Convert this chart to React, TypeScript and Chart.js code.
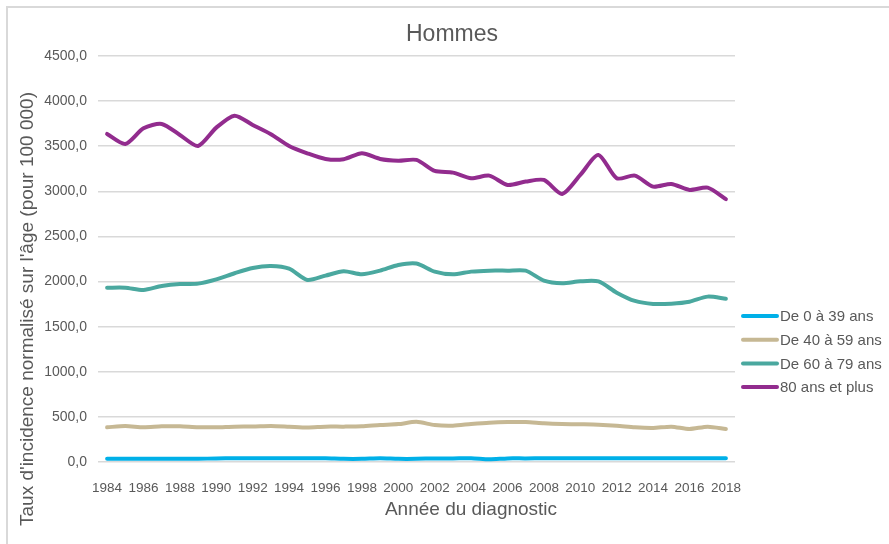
import React, { useEffect, useRef } from "react";
import { Chart, registerables } from "chart.js";

Chart.register(...registerables);

const years = [
  "1984", "1985", "1986", "1987", "1988", "1989", "1990", "1991", "1992", "1993",
  "1994", "1995", "1996", "1997", "1998", "1999", "2000", "2001", "2002", "2003",
  "2004", "2005", "2006", "2007", "2008", "2009", "2010", "2011", "2012", "2013",
  "2014", "2015", "2016", "2017", "2018",
];

const age0to39 = [
  35, 35, 35, 35, 35, 35, 40, 42, 42, 42,
  42, 42, 42, 35, 35, 42, 35, 35, 40, 40,
  42, 30, 40, 40, 42, 42, 42, 42, 42, 42,
  42, 42, 42, 42, 42,
];

const age40to59 = [
  385, 398, 385, 395, 395, 385, 385, 392, 393, 400,
  392, 383, 392, 392, 395, 410, 420, 445, 410, 403,
  421, 436, 443, 443, 429, 421, 418, 414, 403, 385,
  378, 392, 366, 392, 366,
];

const age60to79 = [
  1932, 1932, 1907, 1951, 1973, 1977, 2025, 2092, 2151, 2173,
  2143, 2018, 2066, 2114, 2080, 2121, 2184, 2200, 2110, 2080,
  2110, 2121, 2121, 2121, 2010, 1981, 2003, 2001, 1877, 1785,
  1752, 1755, 1777, 1833, 1810,
];

const age80plus = [
  3636, 3525, 3699, 3747, 3625, 3503, 3706, 3839, 3736, 3633,
  3503, 3422, 3359, 3356, 3422, 3359, 3340, 3348, 3226, 3207,
  3145, 3174, 3071, 3108, 3126, 2971, 3182, 3404, 3145, 3174,
  3052, 3082, 3016, 3041, 2913,
];

const seriesNames = ["De 0 à 39 ans", "De 40 à 59 ans", "De 60 à 79 ans", "80 ans et plus"];
const seriesColors = ["#00b0e8", "#c6b894", "#4aa89f", "#922c8e"];

const chartTitle = "Hommes";
const xTitle = "Année du diagnostic";
const yTitle = "Taux d'incidence normalisé sur l'âge (pour 100 000)";

const FONT = "'Liberation Sans', Arial, sans-serif";
const TEXT = "#595959";

export default function App() {
  const ref = useRef<HTMLCanvasElement>(null);

  useEffect(() => {
    document.body.style.margin = "0";
    const textPlugin = {
      id: "texts",
      afterDraw(chart: any) {
        const ctx = chart.ctx as CanvasRenderingContext2D;
        ctx.save();
        ctx.fillStyle = TEXT;
        ctx.textBaseline = "middle";
        ctx.textAlign = "center";
        ctx.font = `23px ${FONT}`;
        ctx.fillText(chartTitle, 452, 35);
        ctx.font = `19px ${FONT}`;
        ctx.fillText(xTitle, 471, 510);
        ctx.save();
        ctx.translate(28, 309);
        ctx.rotate(-Math.PI / 2);
        ctx.fillText(yTitle, 0, 0);
        ctx.restore();
        // legend
        ctx.font = `15px ${FONT}`;
        ctx.textAlign = "left";
        chart.data.datasets.forEach((ds: any, i: number) => {
          const y = 316 + i * 23.7;
          ctx.strokeStyle = ds.borderColor;
          ctx.lineWidth = 4;
          ctx.lineCap = "round";
          ctx.beginPath();
          ctx.moveTo(743, y);
          ctx.lineTo(777, y);
          ctx.stroke();
          ctx.fillStyle = TEXT;
          ctx.fillText(ds.label, 780, y + 1);
        });
        ctx.restore();
      },
    };

    const series = [age0to39, age40to59, age60to79, age80plus];
    const chart = new Chart(ref.current!, {
      type: "line",
      data: {
        labels: years,
        datasets: series.map((d, i) => ({
          label: seriesNames[i],
          data: d,
          borderColor: seriesColors[i],
          backgroundColor: seriesColors[i],
          borderWidth: 4,
          pointRadius: 0,
          tension: 0.25,
          borderCapStyle: "round" as const,
          borderJoinStyle: "round" as const,
          fill: false,
        })),
      },
      options: {
        responsive: false,
        animation: false,
        layout: { padding: { left: 0, top: 56, right: 154, bottom: 0 } },
        plugins: {
          legend: { display: false },
          title: { display: false },
          tooltip: { enabled: false },
        },
        scales: {
          x: {
            offset: true,
            grid: { display: false },
            border: { display: false },
            ticks: {
              autoSkip: false,
              maxRotation: 0,
              minRotation: 0,
              padding: 10,
              color: TEXT,
              font: { family: FONT, size: 13.5 },
              callback: (_v: any, i: number) => (i % 2 === 0 ? years[i] : ""),
            },
            afterFit: (s: any) => {
              s.height = 82;
            },
          },
          y: {
            min: 0,
            max: 4500,
            grid: { color: "#d9d9d9", lineWidth: 1.5, drawTicks: false },
            border: { display: false },
            ticks: {
              stepSize: 500,
              padding: 11,
              color: TEXT,
              font: { family: FONT, size: 14 },
              callback: (v: any) => Number(v).toFixed(1).replace(".", ","),
            },
            afterFit: (s: any) => {
              s.width = 98;
            },
          },
        },
      },
      plugins: [textPlugin],
    });
    return () => chart.destroy();
  }, []);

  return (
    <div style={{ position: "relative", width: 889, height: 544, overflow: "hidden", background: "#fff" }}>
      <div
        style={{
          position: "absolute",
          left: 6,
          top: 6,
          width: 1000,
          height: 1000,
          border: "2px solid #d9d9d9",
        }}
      />
      <canvas ref={ref} width={889} height={544} style={{ position: "absolute", left: 0, top: 0 }} />
    </div>
  );
}
